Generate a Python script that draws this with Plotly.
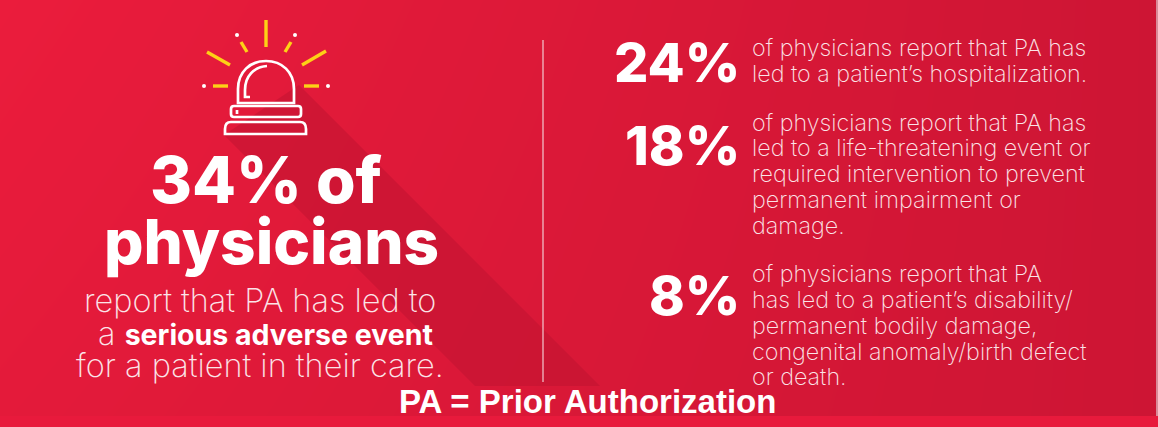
"""Infographic on prior authorization and serious adverse events"""

import plotly.graph_objects as go

WIDTH = 1158
HEIGHT = 427

# values
headline = ["34% of", "physicians"]
headline_note = [
    "report that PA has led to",
    'a <span style="font-weight:700;font-size:28.5px;fill:#ffffff">serious adverse event</span>',
    "for a patient in their care.",
]
stat_values = ["24%", "18%", "8%"]
stat_notes = [
    ["of physicians report that PA has", "led to a patient’s hospitalization."],
    [
        "of physicians report that PA has",
        "led to a life-threatening event or",
        "required intervention to prevent",
        "permanent impairment or",
        "damage.",
    ],
    [
        "of physicians report that PA",
        "has led to a patient’s disability/",
        "permanent bodily damage,",
        "congenital anomaly/birth defect",
        "or death.",
    ],
]
footer = "PA = Prior Authorization"

WHITE = "#ffffff"
PALE = "#fbe4e8"
YELLOW = "#fdd116"
LIGHT_FONT = "Inter"
BOLD_FONT = "Inter"

fig = go.Figure()

# background gradient, left to right
fig.add_trace(
    go.Heatmap(
        x=[0, WIDTH],
        y=[0, HEIGHT],
        z=[[0, 1], [0.25, 1]],
        zsmooth="best",
        colorscale=[[0, "#eb1c3c"], [1, "#cd1534"]],
        showscale=False,
        hoverinfo="skip",
    )
)


def line(x0, y0, x1, y1, color, width):
    fig.add_shape(
        type="line",
        x0=x0,
        y0=y0,
        x1=x1,
        y1=y1,
        line={"color": color, "width": width},
    )


def path(d, color=WHITE, width=2.7, fill=None):
    fig.add_shape(
        type="path",
        path=d,
        line={"color": color, "width": width},
        fillcolor=fill,
    )


# long shadow of the siren
fig.add_shape(
    type="path",
    path="M 224 135 L 475 386 L 600 386 L 344 130 L 299 85 Z",
    fillcolor="rgba(190,18,48,0.5)",
    line={"width": 0},
)

# strip under the picture and its pale right edge
fig.add_shape(
    type="rect", x0=0, x1=WIDTH, y0=416, y1=HEIGHT, fillcolor="#e81a3c", line={"width": 0}
)
fig.add_shape(
    type="rect", x0=1156, x1=WIDTH, y0=0, y1=416, fillcolor="#d98a98", line={"width": 0}
)

# siren rays
rays = [
    (266, 20, 266, 47),
    (241, 42, 247, 52),
    (291, 42, 285, 52),
    (207, 52, 230, 65),
    (326, 51, 302, 65),
    (213, 86, 228, 86),
    (304, 86, 319, 86),
]
for r in rays:
    line(*r, YELLOW, 3.4)

for cx, cy in [(237, 35), (295, 35), (204, 86), (328, 86)]:
    fig.add_shape(
        type="circle",
        x0=cx - 2,
        x1=cx + 2,
        y0=cy - 2,
        y1=cy + 2,
        fillcolor=WHITE,
        line={"width": 0},
    )

# siren body
path("M 238 103 L 238 89 C 238 72 250 61 266 61 C 282 61 294 72 294 89 L 294 103 Z")
path("M 267 66 C 254 67 245 76 245 90 L 245 97 L 250 97")
path("M 234 106 L 298 106 Q 301 106 301 109 L 301 114 Q 301 117 298 117 L 234 117 Q 231 117 231 114 L 231 109 Q 231 106 234 106 Z")
path("M 237 110 L 237 114")
path("M 231 122 L 300 122 Q 306 122 306 129 L 306 134 L 225 134 L 225 129 Q 225 122 231 122 Z")

# separator
line(543, 40, 543, 382, "#f4c9d0", 1.2)


def text(x, y, s, size, weight=300, anchor="left", family=LIGHT_FONT, color=WHITE):
    fig.add_annotation(
        x=x,
        y=y,
        text=s,
        showarrow=False,
        xanchor=anchor,
        yanchor="middle",
        font={"family": family, "size": size, "weight": weight, "color": color},
    )


# left column
for s, x, y, size in zip(headline, [266, 271], [179, 241], [64, 62]):
    text(x, y, s, size, 800, "center", BOLD_FONT)
for s, x, y in zip(headline_note, [260, 265, 260], [300, 333, 365]):
    text(x, y, s, 32.5, 200, "center", color=PALE)

# right column
note_y = [[47, 73], [122, 147, 173, 199, 225], [273, 299, 325, 351, 376]]
value_y = [62, 145, 295]
for value, notes, y0, ys in zip(stat_values, stat_notes, value_y, note_y):
    text(742, y0, value, 54, 800, "right", BOLD_FONT)
    for s, y in zip(notes, ys):
        text(750, y, s, 23.3, 200, color=PALE)

text(587, 401, footer, 33, 700, "center", "Liberation Sans")

fig.update_layout(
    width=WIDTH,
    height=HEIGHT,
    margin={"l": 0, "r": 0, "t": 0, "b": 0},
    showlegend=False,
    xaxis={"range": [0, WIDTH], "visible": False, "fixedrange": True},
    yaxis={"range": [HEIGHT, 0], "visible": False, "fixedrange": True},
)

# drop the page's default margin so the chart fills the window
fig.write_html(
    "out.html",
    config={"displayModeBar": False},
    post_script="document.body.style.margin = '0';",
)
